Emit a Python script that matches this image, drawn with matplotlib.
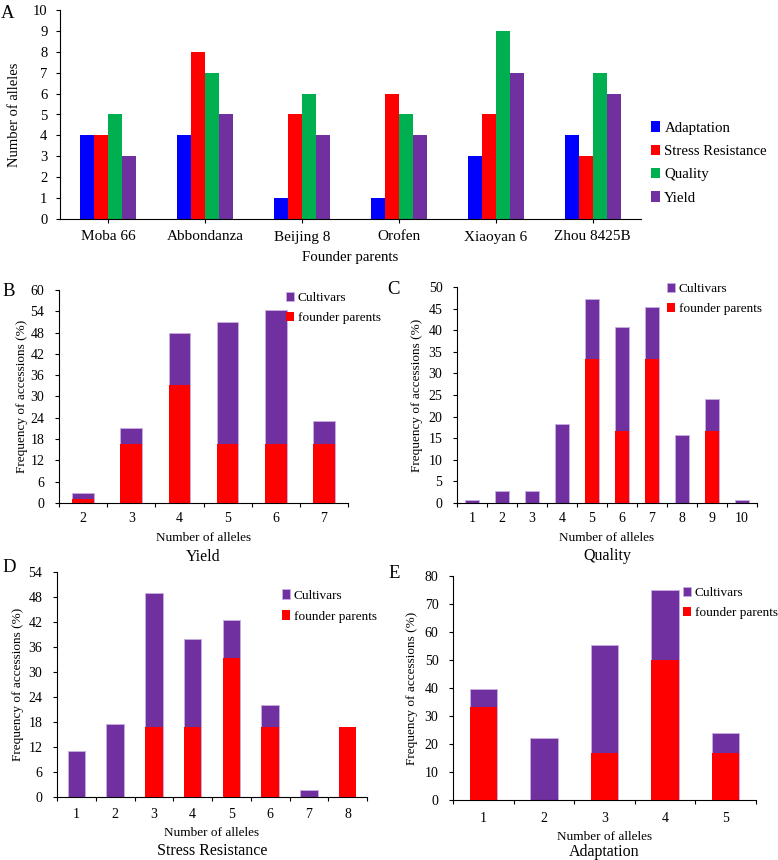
import numpy as np
import matplotlib.pyplot as plt

plt.rcParams['font.family'] = ['Liberation Serif', 'DejaVu Serif']

# ---- panel A data
parents = ['Moba 66', 'Abbondanza', 'Beijing 8', 'Orofen', 'Xiaoyan 6', 'Zhou 8425B']
traits = ['Adaptation', 'Stress Resistance', 'Quality', 'Yield']
adaptation = [4, 4, 1, 1, 3, 4]
stress = [4, 8, 5, 6, 5, 3]
quality = [5, 7, 6, 5, 9, 7]
yield_ = [3, 5, 4, 4, 7, 6]

# ---- panels B-E data (frequency of accessions, %)
yield_alleles = [2, 3, 4, 5, 6, 7]
yield_cult = [2.8, 21.2, 48.0, 51.0, 54.5, 23.0]
yield_found = [1.0, 16.7, 33.3, 16.7, 16.7, 16.7]

quality_alleles = [1, 2, 3, 4, 5, 6, 7, 8, 9, 10]
quality_cult = [0.8, 2.7, 2.7, 18.4, 47.2, 40.7, 45.3, 15.7, 24.1, 0.8]
quality_found = [0, 0, 0, 0, 33.3, 16.7, 33.3, 0, 16.7, 0]

stress_alleles = [1, 2, 3, 4, 5, 6, 7, 8]
stress_cult = [11.1, 17.5, 49.0, 38.0, 42.6, 22.2, 1.8, 0]
stress_found = [0, 0, 16.7, 16.7, 33.3, 16.7, 0, 16.7]

adapt_alleles = [1, 2, 3, 4, 5]
adapt_cult = [39.7, 22.2, 55.5, 75.0, 24.0]
adapt_found = [33.3, 0, 16.7, 50.0, 16.7]

BLUE, RED, GREEN, PURPLE = '#0000FF', '#FF0000', '#00B050', '#7030A0'

W, H = 778, 860
PT = 100 / 72  # pixels per point
fig = plt.figure(figsize=(W / 100, H / 100), dpi=100)


def fx(px):
    return px / W


def fy(py):
    return 1 - py / H


def px_axes(rect):
    left, top, right, bottom = rect
    ax = fig.add_axes([fx(left), fy(bottom), (right - left) / W, (bottom - top) / H])
    ax.rect_px = rect
    return ax


def style(ax, size, ypad):
    for s in ['top', 'right']:
        ax.spines[s].set_visible(False)
    ax.tick_params(direction='out', length=3, width=0.8, labelsize=size)
    ax.tick_params(axis='y', pad=ypad)


def place_labels(ax, ylab_x, xlab_y):
    # axis labels centred at pixel positions
    left, top, right, bottom = ax.rect_px
    ax.yaxis.set_label_coords(fx(ylab_x), (fy(top) + fy(bottom)) / 2, transform=fig.transFigure)
    ax.yaxis.label.set_va('center')
    ax.xaxis.set_label_coords((fx(left) + fx(right)) / 2, fy(xlab_y), transform=fig.transFigure)
    ax.xaxis.label.set_va('center')


# ---- Panel A
ax = px_axes((60, 10, 641, 219))
style(ax, 10.5, 6)
x = np.arange(len(parents))
bw = 0.145
for i, (vals, col, lab) in enumerate(zip([adaptation, stress, quality, yield_],
                                         [BLUE, RED, GREEN, PURPLE], traits)):
    ax.bar(x + (i - 1.5) * bw, vals, bw, color=col, label=lab)
ax.set_xlim(-0.5, len(parents) - 0.5)
ax.set_ylim(0, 10)
ax.set_yticks(range(0, 11))
ax.set_xticks(x)
ax.set_xticklabels(parents, fontsize=11)
ax.tick_params(axis='x', length=3, pad=(18 - 3 * PT) / PT)
for t in ax.get_xticklabels():
    t.set_va('center')
ax.set_ylabel('Number of alleles', fontsize=10.5)
ax.set_xlabel('Founder parents', fontsize=10.7)
place_labels(ax, 15, 258)
ax.legend(loc='center left', bbox_to_anchor=(fx(651), fy(163)), bbox_transform=fig.transFigure,
          frameon=False, fontsize=10.7, handlelength=0.6, handleheight=0.7,
          handletextpad=0.3, labelspacing=0.66, borderpad=0, borderaxespad=0)
fig.text(fx(8), fy(14), 'A', fontsize=13.5, ha='center', va='center')


def freq_panel(rect, alleles, cult, found, yticks, title, label, lab_xy,
               ylab_x, tick_y, xlab_y, title_y, leg_xy, leg_space):
    ax = px_axes(rect)
    style(ax, 10, 7.5)
    xs = np.arange(len(alleles))
    ax.bar(xs, cult, 0.45, color=PURPLE, edgecolor='#c8b0e0', linewidth=0.6,
           label='Cultivars', zorder=2)
    ax.bar(xs, found, 0.45, color=RED, label='founder parents', zorder=3)
    ax.set_xlim(-0.5, len(alleles) - 0.5)
    ax.set_ylim(0, yticks[-1])
    ax.set_yticks(yticks)
    ax.set_xticks(xs)
    ax.set_xticklabels([str(a) for a in alleles])
    ax.set_xticks(np.arange(len(alleles) + 1) - 0.5, minor=True)
    ax.tick_params(axis='x', which='major', length=0, pad=(tick_y - rect[3]) / PT)
    ax.tick_params(axis='x', which='minor', direction='out', length=3, width=0.8)
    for t in ax.get_xticklabels():
        t.set_va('center')
    ax.set_ylabel('Frequency of accessions (%)', fontsize=9.5)
    ax.set_xlabel('Number of alleles', fontsize=9.5)
    place_labels(ax, ylab_x, xlab_y)
    fig.text(fx((rect[0] + rect[2]) / 2), fy(title_y), title, ha='center', va='center',
             fontsize=11.5)
    ax.legend(loc='center left', bbox_to_anchor=(fx(leg_xy[0]), fy(leg_xy[1])),
              bbox_transform=fig.transFigure, frameon=False, fontsize=9.5,
              handlelength=0.6, handleheight=0.7, handletextpad=0.3,
              labelspacing=leg_space, borderpad=0, borderaxespad=0)
    fig.text(fx(lab_xy[0]), fy(lab_xy[1]), label, fontsize=13.5, ha='center', va='center')
    return ax


freq_panel((59, 290, 348, 503), yield_alleles, yield_cult, yield_found,
           list(range(0, 61, 6)), 'Yield', 'B', (9, 291),
           22, 519, 538, 557, (286, 308), 0.59)
freq_panel((457, 287, 757, 503), quality_alleles, quality_cult, quality_found,
           list(range(0, 51, 5)), 'Quality', 'C', (394, 289),
           417, 519, 538, 556, (667, 299), 0.59)
freq_panel((57, 572, 367, 797), stress_alleles, stress_cult, stress_found,
           list(range(0, 55, 6)), 'Stress Resistance', 'D', (9, 568),
           18, 815, 833, 851, (282, 606), 0.67)
freq_panel((453, 576, 756, 800), adapt_alleles, adapt_cult, adapt_found,
           list(range(0, 81, 10)), 'Adaptation', 'E', (394, 573),
           412, 818, 837, 852, (683, 603), 0.59)

fig.savefig('out.png', dpi=100)
